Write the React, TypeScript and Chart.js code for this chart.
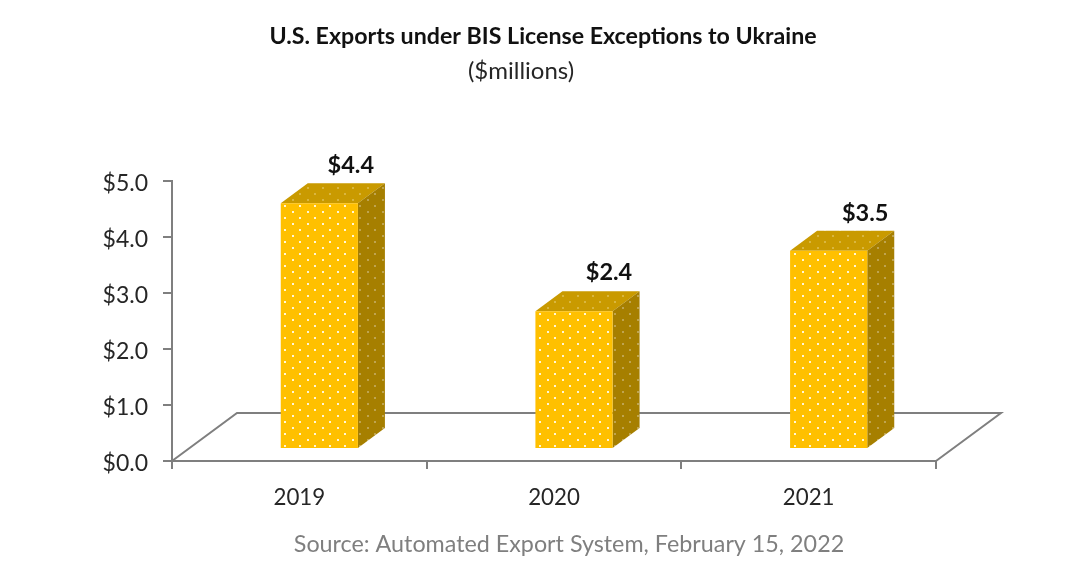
import React, { useEffect, useRef } from "react";
import { Chart, registerables } from "chart.js";

Chart.register(...registerables);

const categories = ["2019", "2020", "2021"];
const exportValues = [4.39, 2.46, 3.54];
const valueLabels = ["$4.4", "$2.4", "$3.5"];
const chartTitle = "U.S. Exports under BIS License Exceptions to Ukraine";
const chartSubtitle = "($millions)";
const sourceNote = "Source: Automated Export System, February 15, 2022";

const FONT = "Lato, 'Noto Sans', sans-serif";
const AXIS = "#7f7f7f";
const DEPTH_X = 27;
const DEPTH_Y = 20;
const BAR_SHIFT_X = 20;
const BAR_SHIFT_Y = 12;
const FLOOR_X = 65;
const FLOOR_Y = 48;
const LABEL_NUDGE_X = [31.5, 35, 36.5];
const LABEL_NUDGE_Y = [38, 39, 37];

function dotPattern(base: string, dot: string) {
  const c = document.createElement("canvas");
  c.width = 15;
  c.height = 12;
  const g = c.getContext("2d")!;
  g.fillStyle = base;
  g.fillRect(0, 0, 15, 12);
  g.fillStyle = dot;
  g.fillRect(9, 1, 2, 2);
  g.fillRect(2, 7, 2, 2);
  return g.createPattern(c, "repeat")!;
}

const cube3d = {
  id: "cube3d",
  beforeDatasetsDraw(chart: any) {
    const { ctx, chartArea: a } = chart;
    const yBase = a.bottom;
    ctx.save();
    ctx.strokeStyle = AXIS;
    ctx.lineWidth = 2;
    ctx.beginPath();
    ctx.moveTo(a.left, yBase);
    ctx.lineTo(a.left + FLOOR_X, yBase - FLOOR_Y);
    ctx.lineTo(a.right + FLOOR_X, yBase - FLOOR_Y);
    ctx.lineTo(a.right, yBase);
    ctx.stroke();
    ctx.restore();

    ctx.save();
    ctx.translate(BAR_SHIFT_X, -BAR_SHIFT_Y);
    const topFill = dotPattern("#c99a00", "#d9b640");
    const sideFill = dotPattern("#a67f00", "#bfa450");
    chart.getDatasetMeta(0).data.forEach((bar: any) => {
      const { x, y, base, width } = bar.getProps(["x", "y", "base", "width"], true);
      const l = x - width / 2;
      const r = x + width / 2;
      ctx.fillStyle = topFill;
      ctx.beginPath();
      ctx.moveTo(l, y);
      ctx.lineTo(l + DEPTH_X, y - DEPTH_Y);
      ctx.lineTo(r + DEPTH_X, y - DEPTH_Y);
      ctx.lineTo(r, y);
      ctx.closePath();
      ctx.fill();
      ctx.fillStyle = sideFill;
      ctx.beginPath();
      ctx.moveTo(r, y);
      ctx.lineTo(r + DEPTH_X, y - DEPTH_Y);
      ctx.lineTo(r + DEPTH_X, base - DEPTH_Y);
      ctx.lineTo(r, base);
      ctx.closePath();
      ctx.fill();
    });
  },
  afterDatasetsDraw(chart: any) {
    const { ctx } = chart;
    ctx.restore();
    ctx.save();
    ctx.textAlign = "center";
    ctx.textBaseline = "middle";
    ctx.font = `bold 23.5px ${FONT}`;
    ctx.fillStyle = "#111111";
    chart.getDatasetMeta(0).data.forEach((bar: any, i: number) => {
      const { x, y } = bar.getProps(["x", "y"], true);
      ctx.fillText(valueLabels[i], x + BAR_SHIFT_X + LABEL_NUDGE_X[i], y - BAR_SHIFT_Y - LABEL_NUDGE_Y[i]);
    });
    ctx.font = `bold 23.2px ${FONT}`;
    ctx.fillStyle = "#111111";
    ctx.fillText(chartTitle, 543, 37);
    ctx.font = `24px ${FONT}`;
    ctx.fillStyle = "#262626";
    ctx.fillText(chartSubtitle, 521, 71);
    ctx.font = `23.3px ${FONT}`;
    ctx.fillStyle = "#7f7f7f";
    ctx.fillText(sourceNote, 569, 544);
    ctx.restore();
  },
};

export default function App() {
  const ref = useRef<HTMLCanvasElement>(null);
  useEffect(() => {
    const chart = new Chart(ref.current!, {
      type: "bar",
      data: {
        labels: categories,
        datasets: [
          {
            data: exportValues,
            backgroundColor: dotPattern("#ffc000", "#fff6d8"),
            borderWidth: 0,
            barPercentage: 0.303,
            categoryPercentage: 1,
            clip: false,
          } as any,
        ],
      },
      plugins: [cube3d],
      options: {
        responsive: false,
        animation: false,
        layout: { padding: { left: 90, right: 132, top: 181, bottom: 0 } },
        plugins: {
          legend: { display: false },
          tooltip: { enabled: false },
          title: { display: false },
        },
        scales: {
          x: {
            afterFit: (s: any) => {
              s.height = 118;
            },
            border: { color: AXIS, width: 2 },
            grid: { drawOnChartArea: false, color: AXIS, tickLength: 8, lineWidth: 2 },
            ticks: { color: "#262626", padding: 15, font: { family: FONT, size: 22.3 } },
          },
          y: {
            min: 0,
            max: 5,
            afterFit: (s: any) => {
              s.width = 82;
            },
            border: { color: AXIS, width: 2 },
            grid: { drawOnChartArea: false, color: AXIS, tickLength: 9, lineWidth: 2 },
            ticks: {
              stepSize: 1,
              color: "#262626",
              padding: 15,
              labelOffset: 3,
              font: { family: FONT, size: 23 },
              callback: (v: any) => `$${Number(v).toFixed(1)}`,
            },
          },
        },
      },
    } as any);
    return () => chart.destroy();
  }, []);
  return (
    <canvas
      ref={ref}
      width={1068}
      height={579}
      style={{ position: "absolute", left: 0, top: 0, background: "#ffffff" }}
    />
  );
}
